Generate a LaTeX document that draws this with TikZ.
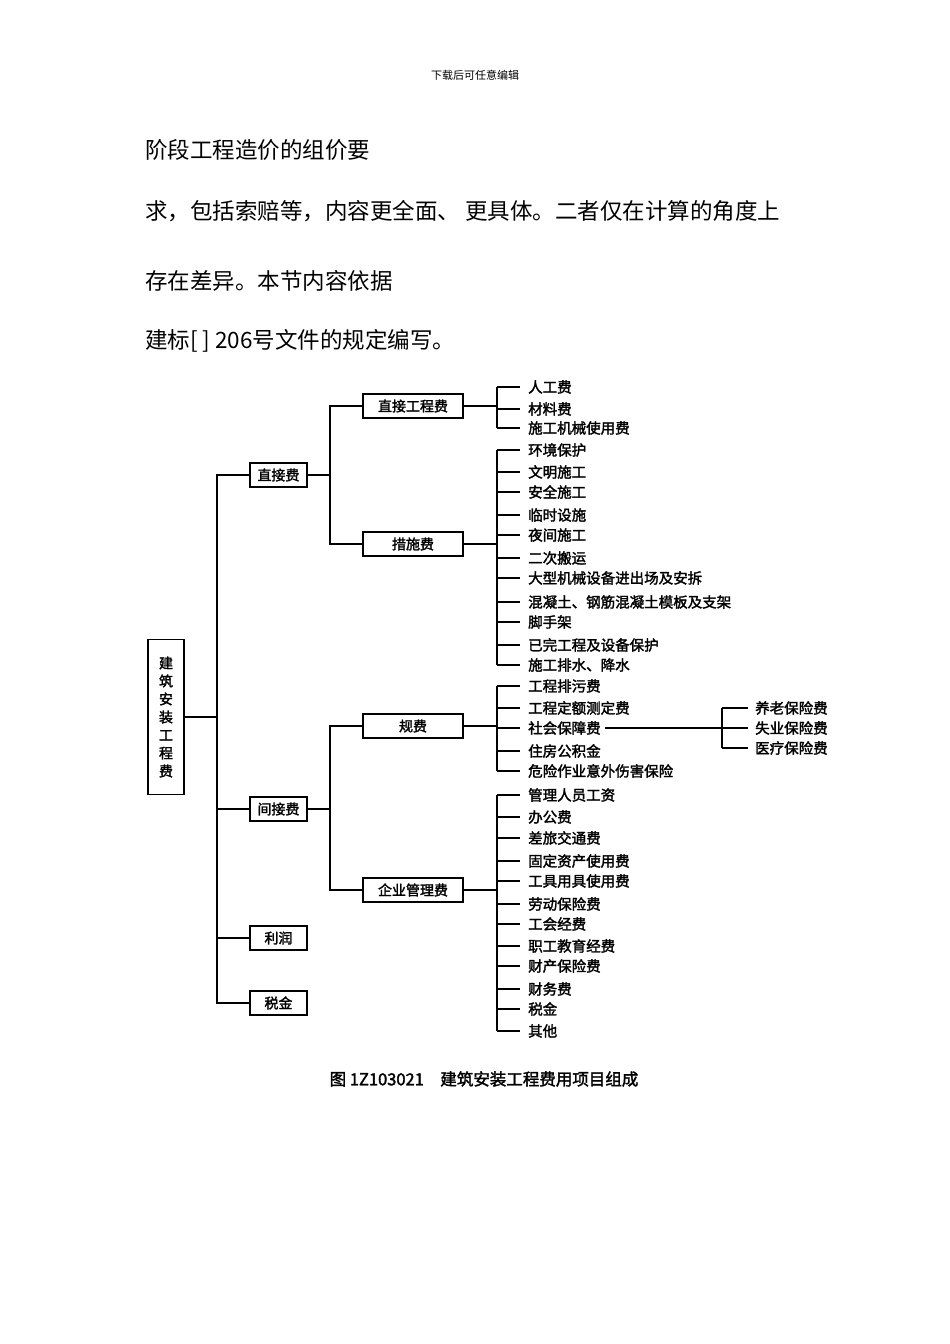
\documentclass[tikz,border=0pt]{standalone}
\usepackage{fontspec}
\newfontfamily\cjk{Noto Sans CJK SC}[AutoFakeBold=2]
\begin{document}
\begin{tikzpicture}[x=1pt,y=-1pt,
  box/.style={draw,line width=1.3pt,inner sep=0pt,font=\cjk\bfseries\fontsize{14}{14}\selectfont},
  leaf/.style={anchor=west,inner sep=0pt,font=\cjk\bfseries\fontsize{14.5}{14.5}\selectfont},
  ln/.style={line width=1.3pt},
  para/.style={anchor=west,inner sep=0pt,font=\cjk\fontsize{22.5}{22.5}\selectfont}]
\useasboundingbox (0,0) rectangle (950,1344);
\node[inner sep=0pt,font=\cjk\fontsize{11}{11}\selectfont] (hdr) at (475,75) {下载后可任意编辑};
\node[para] (p1) at (145,150) {阶段工程造价的组价要};
\node[para] (p2) at (145,211) {求，包括索赔等，内容更全面、 更具体。二者仅在计算的角度上};
\node[para] (p3) at (145,281) {存在差异。本节内容依据};
\node[para] (p4) at (145,341) {建标[ ] 206号文件的规定编写。};
% root
\node[box,minimum width=36pt,minimum height=155pt,align=center] (root) at (166,717) {建\\[4pt]筑\\[4pt]安\\[4pt]装\\[4pt]工\\[4pt]程\\[4pt]费};
\coordinate (t) at (217,717);
\draw[ln] (root.east) -- (t);
% level1
\node[box,minimum width=57pt,minimum height=24pt] (zj) at (278.5,475) {直接费};
\node[box,minimum width=57pt,minimum height=24pt] (jj) at (278.5,809) {间接费};
\node[box,minimum width=57pt,minimum height=24pt] (lr) at (278.5,938) {利润};
\node[box,minimum width=57pt,minimum height=24pt] (sj) at (278.5,1003) {税金};
\draw[ln] (zj.west) -| (217,1003) -- (sj.west);
\draw[ln] (217,809) -- (jj.west);
\draw[ln] (217,938) -- (lr.west);
% level2
\node[box,minimum width=100pt,minimum height=24pt] (zjgc) at (413,406) {直接工程费};
\node[box,minimum width=100pt,minimum height=24pt] (cs) at (413,544) {措施费};
\node[box,minimum width=100pt,minimum height=24pt] (gf) at (413,726) {规费};
\node[box,minimum width=100pt,minimum height=24pt] (qy) at (413,890) {企业管理费};
\draw[ln] (zj.east) -- (330,475);
\draw[ln] (zjgc.west) -| (330,544) -- (cs.west);
\draw[ln] (jj.east) -- (330,809);
\draw[ln] (gf.west) -| (330,890) -- (qy.west);
% leaves
\foreach \y/\t [count=\i] in {387/人工费,409/材料费,428/施工机械使用费}{
  \node[leaf] (a\i) at (528,\y) {\t}; \draw[ln] (497,\y) -- (520,\y);}
\draw[ln] (497,387) -- (497,428);
\draw[ln] (zjgc.east) -- (497,406);
\foreach \y/\t [count=\i] in {450/环境保护,472/文明施工,492/安全施工,515/临时设施,535/夜间施工,558/二次搬运,578/大型机械设备进出场及安拆,602/混凝土、钢筋混凝土模板及支架,622/脚手架,645/已完工程及设备保护,665/施工排水、降水}{
  \node[leaf] (b\i) at (528,\y) {\t}; \draw[ln] (497,\y) -- (520,\y);}
\draw[ln] (497,450) -- (497,665);
\draw[ln] (cs.east) -- (497,544);
\foreach \y/\t [count=\i] in {686/工程排污费,708/工程定额测定费,728/社会保障费,751/住房公积金,771/危险作业意外伤害保险}{
  \node[leaf] (c\i) at (528,\y) {\t}; \draw[ln] (497,\y) -- (520,\y);}
\draw[ln] (497,686) -- (497,771);
\draw[ln] (gf.east) -- (497,726);
\foreach \y/\t [count=\i] in {795/管理人员工资,817/办公费,838/差旅交通费,861/固定资产使用费,881/工具用具使用费,904/劳动保险费,924/工会经费,946/职工教育经费,966/财产保险费,989/财务费,1009/税金,1031/其他}{
  \node[leaf] (d\i) at (528,\y) {\t}; \draw[ln] (497,\y) -- (520,\y);}
\draw[ln] (497,795) -- (497,1031);
\draw[ln] (qy.east) -- (497,890);
% social insurance
\draw[ln] (c3.east) ++(4,0) -- (722,728);
\foreach \y/\t [count=\i] in {708/养老保险费,728/失业保险费,748/医疗保险费}{
  \node[leaf] (e\i) at (755,\y) {\t}; \draw[ln] (722,\y) -- (748,\y);}
\draw[ln] (722,708) -- (722,748);
\node[inner sep=0pt,font=\cjk\bfseries\fontsize{16.5}{16.5}\selectfont] (cap) at (484,1079) {图 1Z103021\quad 建筑安装工程费用项目组成};
\end{tikzpicture}
\end{document}
